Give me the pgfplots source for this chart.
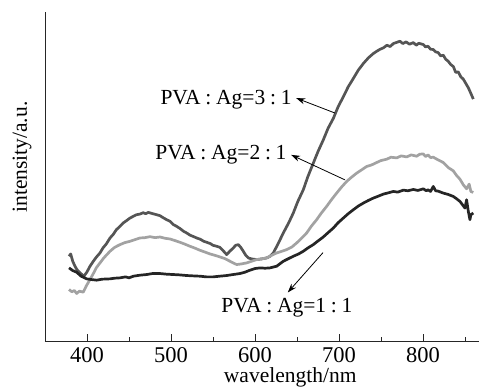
\documentclass[border=0pt]{standalone}
\usepackage{fontspec}
\setmainfont{Liberation Serif}
\usepackage{pgfplots}
\pgfplotsset{compat=1.18}
\usetikzlibrary{arrows.meta}
\definecolor{cA}{HTML}{555555}
\definecolor{cB}{HTML}{A2A2A2}
\definecolor{cC}{HTML}{252525}
\newcommand{\cc}{\hspace{0.22em}:\hspace{0.22em}}
\begin{document}
\begin{tikzpicture}
\useasboundingbox (-45pt,-49pt) rectangle (434pt,341pt);
\begin{axis}[
  at={(0,0)}, anchor=south west,
  scale only axis, width=434pt, height=329pt,
  xmin=350, xmax=866.7, ymin=0, ymax=990,
  axis x line=bottom, axis y line=left,
  axis line style={-, line width=0.9pt, black!85},
  ytick=\empty,
  xtick={400,500,...,800},
  minor xtick={450,550,...,850},
  tick align=inside,
  major tick length=7pt, minor tick length=4pt,
  tick style={black!85, line width=0.9pt},
  ticklabel style={font=\fontsize{22.5}{26}\selectfont},
  xticklabel style={yshift=-3pt},
  /pgf/number format/assume math mode=true,
  xlabel={wavelength/nm},
  xlabel style={at={(axis description cs:0.565,-0.112)}, anchor=center, font=\fontsize{21.5}{24}\selectfont},
  ylabel={intensity/a.u.},
  ylabel style={at={(axis description cs:-0.053,0.559)}, anchor=center, font=\fontsize{21.5}{24}\selectfont},
  every axis plot/.append style={line width=2.7pt, line join=round},
]
\addplot[cA] coordinates {
(378.6,255)(380.6,262)(383,240)(385.7,225)(388,215)(391.7,205)(394,200)(396.4,195)(400,208)(403.6,225)(407,238)(411,252)(415.5,265)(419,280)(423,292)(427.4,310)(431,320)(435,335)(439.3,345)(443,355)(447,362)(451.2,370)(455,375)(459,380)(463.1,382)(467,386)(470,383)(473.0,387)(477,384)(482.9,380)(487,377)(490,372)(494.8,365)(499,360)(503,350)(506.7,345)(511,338)(515,330)(518.7,325)(523,318)(527,314)(530.6,310)(535,306)(539,300)(542.5,297)(547,293)(550,288)(554.4,285)(558,282)(562,272)(566.3,260)(570,270)(574.2,280)(577,288)(580.2,290)(583,282)(586.1,270)(589,258)(592.1,250)(596,247)(602.0,245)(608,247)(613.9,250)(618,255)(621.8,265)(627,290)(633.7,325)(640,355)(645.6,385)(651,420)(657.5,455)(663,495)(669.4,535)(675,570)(681.3,605)(687,640)(693.3,670)(699,705)(705.2,735)(711,765)(717.1,790)(723,815)(729.0,835)(735,852)(740.9,865)(745,872)(749,878)(752.8,882)(757,890)(761,886)(764.7,895)(768,898)(772.6,902)(776,895)(780,900)(784,893)(788.5,898)(792,890)(795,896)(800.4,892)(803,885)(806,887)(809,878)(812.3,877)(815,870)(818,868)(821,858)(824.2,860)(827,848)(830,842)(833,832)(836.1,826)(839,808)(842,810)(845,795)(848,788)(851,775)(854,762)(857,745)(859.9,728)
};
\addplot[cB] coordinates {
(378.6,155)(382,148)(385,152)(387.7,143)(391,150)(395.6,147)(399,165)(403.6,185)(408,205)(411,220)(415.5,235)(420,250)(427.4,270)(433,282)(439.3,290)(445,296)(451.2,300)(457,305)(463.1,310)(469,311)(475.0,314)(481,311)(486.9,313)(493,309)(498.8,307)(505,302)(510.7,297)(516,292)(522.6,285)(528,280)(534.5,273)(540,268)(546.4,262)(552,258)(558.3,253)(564,248)(570.2,240)(574,235)(578.2,230)(584,232)(590.1,235)(596,240)(602.0,245)(608,247)(613.9,250)(620,258)(625.8,265)(632,270)(637.7,275)(644,283)(649.6,295)(655,308)(661.5,325)(667,345)(673.4,365)(679,385)(685.3,405)(691,425)(697.2,445)(703,463)(709.1,480)(715,493)(721.0,505)(727,515)(732.9,525)(739,530)(744.8,537)(750,543)(756.7,547)(762,553)(768.7,551)(774,557)(780.6,554)(786,560)(792.5,556)(796,562)(800.4,563)(803,555)(806,560)(809,552)(812.3,553)(818,545)(824.2,537)(830,522)(836.1,512)(840,498)(844.0,487)(848,470)(851.9,458)(855,472)(857,450)(859.9,447)
};
\addplot[cC] coordinates {
(378.6,220)(383,212)(387.7,207)(393,195)(399.6,187)(405,185)(411.5,183)(418,186)(427.4,187)(433,189)(439.3,190)(446,193)(450,190)(455.2,195)(463,198)(471.0,200)(478,203)(486.9,203)(495,201)(502.8,200)(510,199)(518.7,197)(526,196)(534.5,195)(542,193)(550.4,193)(558,195)(566.3,197)(574,200)(582.1,203)(588,207)(594.0,213)(600,218)(605.9,220)(612,219)(617.9,220)(625.8,225)(633.7,240)(640,248)(645.6,255)(652,262)(657.5,270)(663,280)(669.4,290)(675,301)(681.3,313)(687,326)(693.3,340)(699,356)(705.2,370)(711,383)(717.1,395)(723,406)(729.0,415)(735,423)(740.9,430)(747,436)(752.8,442)(759,446)(764.7,450)(770,448)(776.6,454)(782,452)(788.5,456)(794,453)(800.4,458)(804,452)(806,455)(809,450)(812.3,465)(815,452)(818,451)(824.2,445)(830,441)(836.1,435)(840,428)(844.0,420)(847,410)(850.0,400)(851.9,425)(854,390)(855.9,365)(857,380)(859.9,385)
};
\node[font=\fontsize{21.5}{24}\selectfont] at (axis cs:565.5,725) {PVA\cc Ag=3\cc 1};
\node[font=\fontsize{21.5}{24}\selectfont] at (axis cs:559.5,560) {PVA\cc Ag=2\cc 1};
\node[font=\fontsize{21.5}{24}\selectfont] at (axis cs:638,101) {PVA\cc Ag=1\cc 1};
\draw[-{Stealth[length=9pt,width=6pt]}, line width=0.8pt] (axis cs:695.2,686) -- (axis cs:649,731);
\draw[-{Stealth[length=9pt,width=6pt]}, line width=0.8pt] (axis cs:707,485) -- (axis cs:643,560);
\draw[-{Stealth[length=9pt,width=6pt]}, line width=0.8pt] (axis cs:681,266) -- (axis cs:639,146);
\end{axis}
\end{tikzpicture}
\end{document}
